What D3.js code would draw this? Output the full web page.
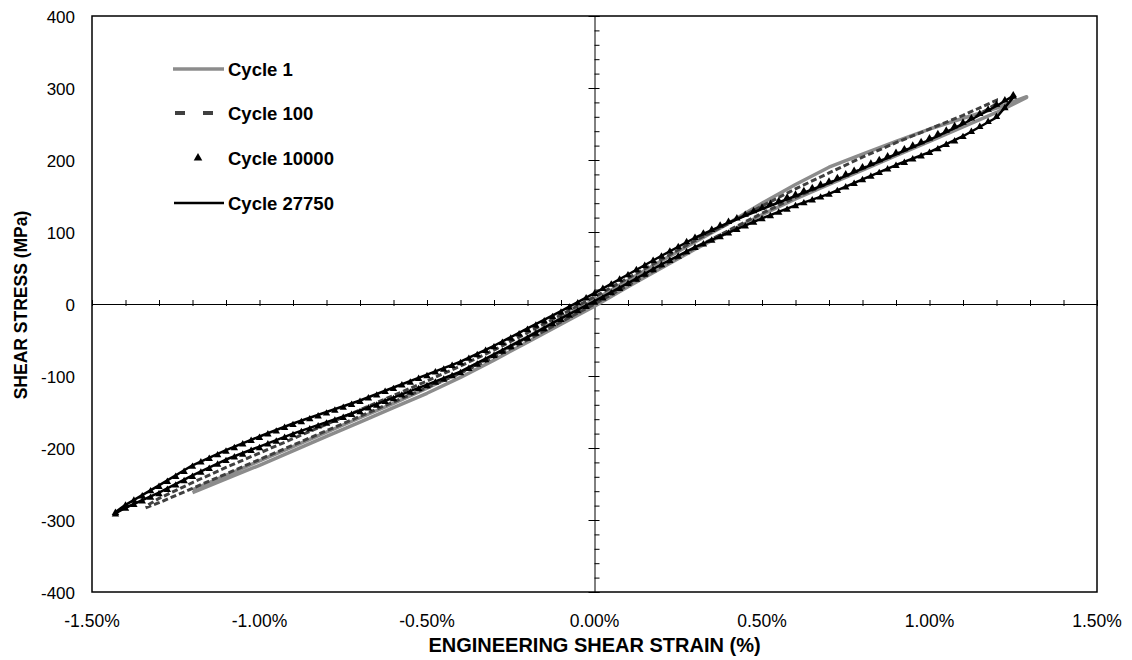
<!DOCTYPE html>
<html>
<head>
<meta charset="utf-8">
<script src="https://cdn.jsdelivr.net/npm/d3@7"></script>
<style>
  body { margin: 0; background: #fff; }
  svg text { font-family: "Liberation Sans", Arial, sans-serif; }
</style>
</head>
<body>
<svg id="chart"></svg>
<script>
// ---- data (strain in %, stress in MPa) ----
const xTicks = [-1.5, -1.0, -0.5, 0.0, 0.5, 1.0, 1.5]
const yTicks = [400, 300, 200, 100, 0, -100, -200, -300, -400]

// Cycle 1 (grey solid)
const c1Strain = [-1.20, -1.1, -1.0, -0.9, -0.8, -0.7, -0.6, -0.5, -0.4, -0.3, -0.2, -0.1, 0, 0.1, 0.2, 0.3, 0.4, 0.5, 0.6, 0.7, 0.8, 0.9, 1.0, 1.1, 1.2, 1.29]
const c1Lower = [-262, -243, -224, -204, -184, -164, -144, -124, -102, -78, -53, -28, -3, 24, 50, 76, 100, 124, 146, 166, 186, 206, 226, 246, 266, 287]
const c1Upper = [-258, -238, -218, -198, -178, -158, -138, -117, -95, -71, -46, -20, 6, 33, 60, 86, 112, 140, 166, 190, 208, 226, 243, 258, 272, 288]

// Cycle 100 (dark dashed)
const c100Strain = [-1.34, -1.3, -1.2, -1.1, -1.0, -0.9, -0.8, -0.7, -0.6, -0.5, -0.4, -0.3, -0.2, -0.1, 0, 0.1, 0.2, 0.3, 0.4, 0.5, 0.6, 0.7, 0.8, 0.9, 1.0, 1.1, 1.2]
const c100Lower = [-283, -276, -256, -236, -216, -196, -176, -156, -136, -116, -96, -74, -50, -25, 0, 26, 52, 78, 102, 126, 148, 168, 188, 208, 228, 250, 278]
const c100Upper = [-281, -270, -248, -227, -207, -187, -167, -147, -127, -107, -86, -64, -40, -15, 10, 36, 62, 88, 112, 136, 160, 182, 204, 224, 243, 262, 283]

// Cycle 10000 (triangle markers)
const c10000Strain = [-1.43, -1.40, -1.375, -1.35, -1.325, -1.30, -1.275, -1.25, -1.225, -1.20, -1.175, -1.15, -1.125, -1.10, -1.075, -1.05, -1.025,
    -1.00, -0.975, -0.95, -0.925, -0.90, -0.875, -0.85, -0.825, -0.80, -0.775, -0.75, -0.725, -0.70, -0.675, -0.65, -0.625,
    -0.60, -0.575, -0.55, -0.525, -0.50, -0.475, -0.45, -0.425, -0.40, -0.375, -0.35, -0.325, -0.30, -0.275, -0.25, -0.225,
    -0.20, -0.175, -0.15, -0.125, -0.10, -0.075, -0.05, -0.025, 0.00, 0.025, 0.05, 0.075, 0.10, 0.125, 0.15, 0.175,
    0.20, 0.225, 0.25, 0.275, 0.30, 0.325, 0.35, 0.375, 0.40, 0.425, 0.45, 0.475, 0.50, 0.525, 0.55, 0.575,
    0.60, 0.625, 0.65, 0.675, 0.70, 0.725, 0.75, 0.775, 0.80, 0.825, 0.85, 0.875, 0.90, 0.925, 0.95, 0.975,
    1.00, 1.025, 1.05, 1.075, 1.10, 1.125, 1.15, 1.175, 1.20, 1.225, 1.25]
const c10000Lower = [-292, -284, -279, -274, -269, -264, -258, -252, -246, -240, -234, -229, -223, -218, -213, -209, -204,
    -200, -195, -191, -186, -182, -178, -174, -170, -166, -162, -158, -154, -150, -145, -141, -136,
    -132, -127, -123, -118, -114, -109, -105, -100, -96, -90, -84, -78, -72, -66, -60, -54,
    -48, -41, -35, -28, -22, -16, -10, -4, 2, 8, 15, 21, 28, 34, 41, 47,
    54, 60, 66, 72, 78, 83, 88, 93, 98, 103, 108, 113, 118, 122, 127, 131,
    136, 140, 144, 148, 152, 157, 162, 167, 172, 177, 182, 187, 192, 196, 201, 205,
    210, 215, 221, 226, 232, 239, 246, 253, 260, 272, 288]
const c10000Upper = [-290, -280, -273, -267, -260, -254, -247, -240, -233, -226, -220, -215, -210, -205, -200, -195, -190,
    -186, -181, -177, -172, -168, -164, -160, -156, -152, -148, -144, -140, -136, -131, -127, -122,
    -118, -113, -109, -104, -100, -95, -91, -86, -82, -76, -71, -65, -60, -54, -48, -42,
    -36, -30, -24, -18, -12, -5, 1, 8, 14, 21, 27, 34, 40, 47, 53, 60,
    66, 73, 79, 86, 92, 98, 103, 109, 114, 119, 124, 129, 134, 139, 143, 148,
    152, 157, 161, 166, 170, 175, 180, 185, 190, 195, 200, 205, 210, 215, 220, 225,
    230, 236, 241, 247, 252, 258, 264, 270, 277, 283, 290]

// Cycle 27750 (black solid)
const c27750Strain = [-1.43, -1.4, -1.3, -1.2, -1.1, -1.0, -0.9, -0.8, -0.7, -0.6, -0.5, -0.4, -0.3, -0.2, -0.1, 0, 0.1, 0.2, 0.3, 0.4, 0.5, 0.6, 0.7, 0.8, 0.9, 1.0, 1.1, 1.2, 1.25]
const c27750Lower = [-291, -283, -262, -238, -216, -198, -180, -164, -148, -130, -112, -94, -70, -46, -20, 4, 29, 55, 79, 99, 119, 137, 153, 173, 193, 211, 233, 259, 287]
const c27750Upper = [-289, -279, -252, -224, -203, -184, -166, -150, -134, -116, -98, -80, -58, -34, -10, 15, 41, 67, 92, 113, 132, 150, 168, 188, 208, 228, 250, 275, 289]

const legendNames = ['Cycle 1', 'Cycle 100', 'Cycle 10000', 'Cycle 27750']

// closed loop: lower branch going up, upper branch coming back
function loop(strain, lower, upper) {
    const pts = strain.map((s, i) => [s, lower[i]])
    for (let i = strain.length - 1; i >= 0; i--) pts.push([strain[i], upper[i]])
    return pts
}

const width = 1132, height = 660
const margin = { top: 16, right: 35, bottom: 68, left: 92 }
const innerW = width - margin.left - margin.right
const innerH = height - margin.top - margin.bottom

const svg = d3.select('#chart').attr('width', width).attr('height', height)
const g = svg.append('g').attr('transform', `translate(${margin.left},${margin.top})`)

const x = d3.scaleLinear().domain([-1.5, 1.5]).range([0, innerW])
const y = d3.scaleLinear().domain([-400, 400]).range([innerH, 0])

// frame
g.append('rect')
    .attr('width', innerW).attr('height', innerH)
    .attr('fill', 'none').attr('stroke', '#000').attr('stroke-width', 1.5)

// tick labels
g.selectAll('.xl').data(xTicks).join('text')
    .attr('x', d => x(d)).attr('y', innerH + 35)
    .attr('text-anchor', 'middle').attr('font-size', 17.5)
    .text(d => d.toFixed(2) + '%')

g.selectAll('.yl').data(yTicks).join('text')
    .attr('x', -17).attr('y', d => y(d) + 6.5)
    .attr('text-anchor', 'end').attr('font-size', 17)
    .text(d => d)

// axis titles
svg.append('text')
    .attr('x', margin.left + x(0)).attr('y', 652)
    .attr('text-anchor', 'middle').attr('font-size', 20).attr('font-weight', 'bold')
    .text('ENGINEERING SHEAR STRAIN (%)')

svg.append('text')
    .attr('transform', `translate(27,305) rotate(-90)`)
    .attr('text-anchor', 'middle').attr('font-size', 17.5).attr('font-weight', 'bold')
    .text('SHEAR STRESS (MPa)')

// zero axes through the middle
const axisX = g.append('g').attr('transform', `translate(0,${y(0)})`)
axisX.call(d3.axisTop(x).tickValues(d3.range(-15, 16).map(d => d / 10)).tickSize(4).tickFormat(''))
axisX.selectAll('.tick line').attr('y2', -4).attr('y1', 2)

const axisY = g.append('g').attr('transform', `translate(${x(0)},0)`)
axisY.call(d3.axisRight(y).tickValues(d3.range(-400, 401, 20)).tickSize(5).tickFormat(''))
axisY.selectAll('.tick line').attr('x1', d => d % 100 === 0 ? -6 : 0)

// curves
const line = d3.line().x(d => x(d[0])).y(d => y(d[1]))

g.append('path')
    .attr('d', line(loop(c1Strain, c1Lower, c1Upper)))
    .attr('fill', 'none').attr('stroke', '#8c8c8c').attr('stroke-width', 3.5)
    .attr('stroke-linejoin', 'round')

g.append('path')
    .attr('d', line(loop(c100Strain, c100Lower, c100Upper)))
    .attr('fill', 'none').attr('stroke', '#404040').attr('stroke-width', 3)
    .attr('stroke-dasharray', '6,3')

g.append('path')
    .attr('d', line(loop(c27750Strain, c27750Lower, c27750Upper)))
    .attr('fill', 'none').attr('stroke', '#000').attr('stroke-width', 2.5)
    .attr('stroke-linejoin', 'round')

const tri = d3.symbol().type(d3.symbolTriangle).size(24)
g.selectAll('.m10000').data(loop(c10000Strain, c10000Lower, c10000Upper)).join('path')
    .attr('transform', d => `translate(${x(d[0])},${y(d[1])})`)
    .attr('d', tri).attr('fill', '#000')

// legend
const lg = svg.append('g')
const rows = [69, 113, 158, 203]
lg.append('line').attr('x1', 173).attr('x2', 224).attr('y1', rows[0]).attr('y2', rows[0])
    .attr('stroke', '#8c8c8c').attr('stroke-width', 3.5)
lg.append('line').attr('x1', 175).attr('x2', 213).attr('y1', rows[1]).attr('y2', rows[1])
    .attr('stroke', '#404040').attr('stroke-width', 4).attr('stroke-dasharray', '10,18')
lg.append('path').attr('transform', `translate(198,${rows[2]})`)
    .attr('d', d3.symbol().type(d3.symbolTriangle).size(32)).attr('fill', '#000')
lg.append('line').attr('x1', 174).attr('x2', 224).attr('y1', rows[3]).attr('y2', rows[3])
    .attr('stroke', '#000').attr('stroke-width', 2.5)
lg.selectAll('.lt').data(legendNames).join('text')
    .attr('x', 228).attr('y', (d, i) => rows[i] + 7)
    .attr('font-size', 18.5).attr('font-weight', 'bold')
    .text(d => d)
</script>
</body>
</html>
